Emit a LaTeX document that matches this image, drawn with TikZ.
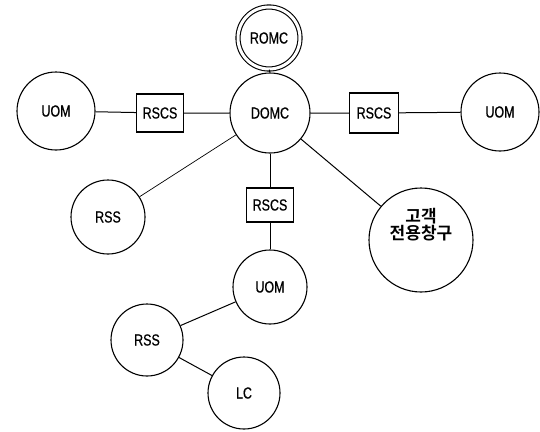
\documentclass[tikz,border=0pt]{standalone}
\usepackage{fontspec}
\setmainfont{Liberation Sans}[FakeStretch=0.78, FakeBold=0.6]
\newfontfamily\krfont{Noto Sans CJK KR Bold}
\begin{document}
\begin{tikzpicture}[x=1pt,y=-1pt,
  line width=1.1pt,
  every node/.style={font=\fontsize{16}{18}\selectfont, inner sep=0pt},
  site/.style={draw, circle, minimum size=#1},
  site/.default=76pt,
  relay/.style={draw, rectangle, minimum width=47pt, minimum height=38pt},
  link/.style={line width=1pt}]
\useasboundingbox (0,0) rectangle (540,431);
% top level centre and its upstream centre
\node[site=80pt] (domc) at (270,113) {DOMC};
\node[draw, circle, double, double distance=3pt, minimum size=62pt] (romc) at (269,38) {ROMC};
% east-west chain
\node[relay] (rscsl) at (160,113) {RSCS};
\node[site=78pt] (uoml) at (56,111) {UOM};
\node[relay, minimum width=49pt, minimum height=40pt] (rscsr) at (374,113) {RSCS};
\node[site=78pt] (uomr) at (500,112) {UOM};
% southern branches
\node[site=74pt] (rssl) at (108,217) {RSS};
\node[relay, minimum height=34pt] (rscsb) at (270,205) {RSCS};
\node[site=104pt] (cust) at (421,240) {};
\node[font=\krfont\fontsize{17}{19}\selectfont, align=center] (custtxt) at (421,225) {고객\\[-2pt]전용창구};
\node[site=74pt] (uomb) at (270,287) {UOM};
\node[site=72pt] (rssb) at (147,340) {RSS};
\node[site=72pt] (lc) at (244,393) {LC};
% links
\draw[link] (romc) -- (domc);
\draw[link] (uoml) -- (rscsl) -- (domc);
\draw[link] (domc) -- (rscsr) -- (uomr);
\draw[link, line width=0.7pt] (domc) -- (rssl);
\draw[link] (domc) -- (cust);
\draw[link] (domc) -- (rscsb) -- (uomb);
\draw[link] (uomb) -- (rssb) -- (lc);
\end{tikzpicture}
\end{document}
